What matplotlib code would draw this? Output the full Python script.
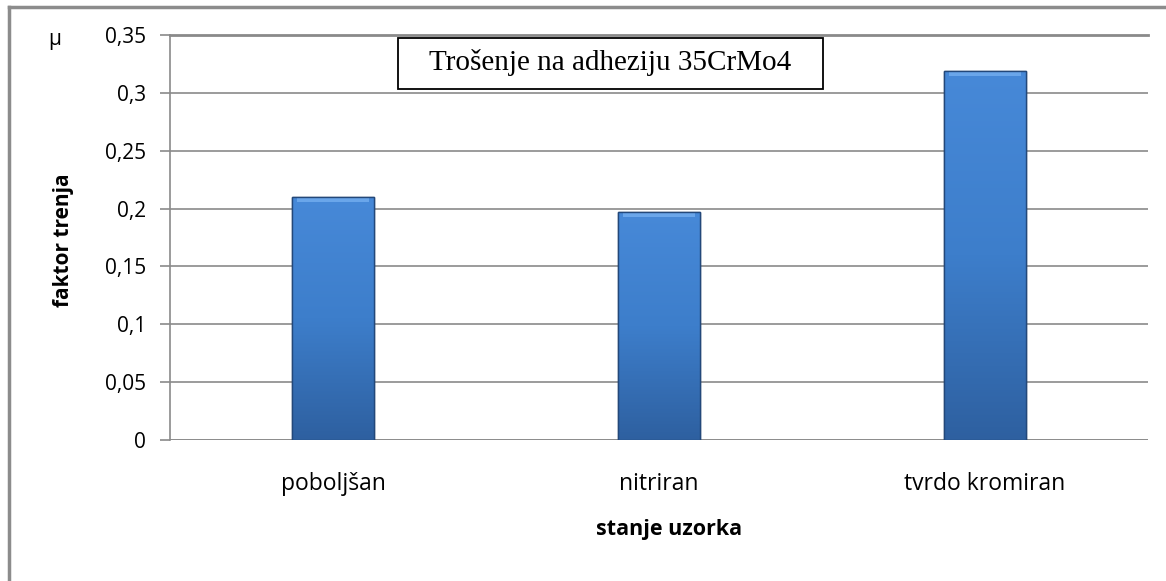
import numpy as np
import matplotlib
matplotlib.use('Agg')
import matplotlib.pyplot as plt
from matplotlib.patches import Rectangle
from matplotlib.colors import LinearSegmentedColormap

plt.rcParams['font.family'] = ['Open Sans', 'DejaVu Sans']

# data
categories = ['poboljšan', 'nitriran', 'tvrdo kromiran']
friction = [0.21, 0.197, 0.319]
yticks = [0, 0.05, 0.1, 0.15, 0.2, 0.25, 0.3, 0.35]
ytick_labels = ['0', '0,05', '0,1', '0,15', '0,2', '0,25', '0,3', '0,35']

W, H = 1166, 581


def fx(px):
    return px / W


def fy(py):
    return 1 - py / H


fig = plt.figure(figsize=(W / 100, H / 100), dpi=100)

# outer frame (only left and top edges show in the source)
fig.add_artist(plt.Line2D([fx(9), fx(9)], [0, fy(7)], color='#8c8c8c', lw=2.5))
fig.add_artist(plt.Line2D([fx(9), 1], [fy(7), fy(7)], color='#8c8c8c', lw=2.5))

ax = fig.add_axes([fx(170), fy(440), 978 / W, 405 / H])

x = np.arange(len(categories))
bars = ax.bar(x, friction, width=0.25, color='#3c7cc8', edgecolor='#1f3f6a',
              linewidth=1.0, zorder=3)

# vertical gradient inside each bar
cmap = LinearSegmentedColormap.from_list('blu', ['#2e60a0', '#3d7ecb', '#4789d8'])
grad = np.linspace(0, 1, 256).reshape(-1, 1)
for b in bars:
    x0, w, h = b.get_x(), b.get_width(), b.get_height()
    im = ax.imshow(grad, extent=[x0, x0 + w, 0, h], origin='lower', cmap=cmap,
                   aspect='auto', zorder=3.5)
    im.set_clip_path(b)
    ax.add_patch(Rectangle((x0 + w * 0.06, h - 0.004), w * 0.88, 0.003,
                           color='#6aa6ea', lw=0, zorder=4))
    ax.add_patch(Rectangle((x0, 0), w, h, fill=False, edgecolor='#23487a',
                           lw=1.0, zorder=4.5))

ax.set_xlim(-0.5, 2.5)
ax.set_ylim(0, 0.35)
ax.set_yticks(yticks)
ax.set_yticklabels(ytick_labels)
ax.yaxis.grid(True, color='#8a8a8a', lw=1.2, zorder=0)
ax.set_axisbelow(True)

for s in ['right', 'bottom']:
    ax.spines[s].set_visible(False)
ax.spines['top'].set_color('#8a8a8a')
ax.spines['top'].set_linewidth(2.0)
ax.spines['left'].set_color('#8a8a8a')
ax.spines['left'].set_linewidth(1.2)
ax.axhline(0, color='#8a8a8a', lw=1.2, zorder=2)

ax.tick_params(axis='y', length=7.2, width=1.2, color='#8a8a8a', labelsize=15, pad=10)
ax.tick_params(axis='x', length=0, labelsize=16.5, pad=23)
ax.set_xticks(x)
ax.set_xticklabels(categories)

# axis titles
fig.text(fx(63), fy(240), 'faktor trenja', fontsize=15, fontweight='bold',
         rotation=90, ha='center', va='center')
fig.text(fx(669), fy(530), 'stanje uzorka', fontsize=15.5, fontweight='bold',
         ha='center', va='center')
fig.text(fx(55), fy(40), 'μ', fontsize=15, ha='center', va='center')

# chart title in a box
fig.add_artist(Rectangle((fx(398), fy(89)), 425 / W, 51 / H, transform=fig.transFigure,
                         facecolor='white', edgecolor='black', lw=1.3, zorder=6))
fig.text(fx(610), fy(62), 'Trošenje na adheziju 35CrMo4', fontsize=21,
         family='Liberation Serif', ha='center', va='center', zorder=7)

fig.savefig('out.png', dpi=100)
